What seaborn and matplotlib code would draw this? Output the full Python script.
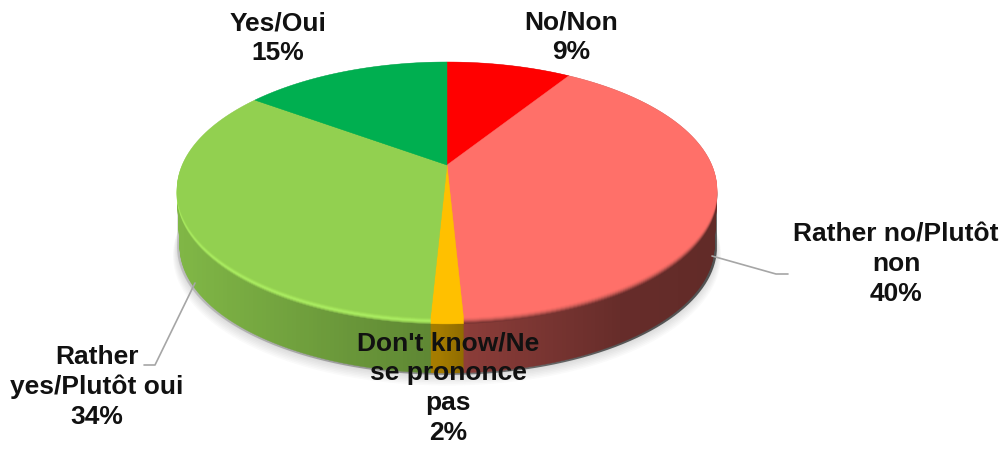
import numpy as np
import seaborn as sns
import matplotlib
matplotlib.use('Agg')
import matplotlib.pyplot as plt
from matplotlib.path import Path
from matplotlib.transforms import Transform, Affine2D

# values (labels are rounded, the slices are not)
categories = ['No/Non', 'Rather no/Plutôt\nnon', "Don't know/Ne\nse prononce\npas", 'Rather\nyes/Plutôt oui', 'Yes/Oui']
shares = [9.0, 40.2, 1.6, 34.2, 15.0]
labels_pct = ['9%', '40%', '2%', '34%', '15%']

face_colors = ['#FF0000', '#FF7069', '#FFC000', '#92D050', '#00AF50']
side_colors = ['#C00000', '#FF7069', '#FFC000', '#92D050', '#00AF50']
rim_colors = [
    ['#C00000', '#7A3533', '#FFC000', '#86BC4C', '#00AF50'],
    ['#C00000', '#97433F', '#FFC000', '#9AD655', '#00AF50'],
    ['#C00000', '#B5514C', '#FFC000', '#A8EA60', '#00AF50'],
    ['#C00000', '#D05E58', '#FFC000', '#A8EA60', '#00AF50'],
    ['#E00000', '#E86660', '#FFC000', '#A0E058', '#00AF50'],
    ['#E00000', '#F66C65', '#FFC000', '#98D653', '#00AF50'],
]

sns.set_theme(style='white')
plt.rcParams['font.family'] = ['Liberation Sans', 'DejaVu Sans']


class Perspective(Transform):
    # unit circle of the pie -> pixels of the tilted disc
    input_dims = 2
    output_dims = 2
    is_separable = False
    has_inverse = False

    def __init__(self, cx, cy, a, b, c):
        super().__init__()
        self.cx, self.cy, self.a, self.b, self.c = cx, cy, a, b, c

    def transform_non_affine(self, values):
        values = np.asarray(values, dtype=float)
        u, v = values[:, 0], values[:, 1]
        w = 1 + self.b * v
        return np.column_stack([self.cx + self.c * u / w, self.cy - self.a * v / w])

    def transform_path_non_affine(self, path):
        pts = path.transformed(Affine2D().scale(2000)).to_polygons(closed_only=False)[0] / 2000
        return Path(self.transform_non_affine(pts))


persp = Perspective(447, 165, 123.1, 0.195, 264.8)
depth = 57

fig = plt.figure(figsize=(10.08, 4.5), dpi=100)
ax = fig.add_axes([0, 0, 1, 1])


def pie_layer(shift, colors, zorder, radius=1.0, alpha=None):
    wedges, _ = ax.pie(shares, colors=colors, startangle=90, counterclock=False, radius=radius,
                       wedgeprops={'linewidth': 0, 'zorder': zorder})
    tr = persp + Affine2D().translate(0, shift) + ax.transData
    for w in wedges:
        w.set_transform(tr)
        if alpha is not None:
            w.set_alpha(alpha)
        else:
            w.set_edgecolor(w.get_facecolor())
            w.set_linewidth(0.3)
    return wedges


# soft shadow under the disc
for i in range(10):
    pie_layer(depth - 2 + i * 1.1, ['#000000'] * 5, 1, radius=1.0 - 0.008 + i * 0.0025, alpha=0.018)

# extruded side
for s in range(depth, 3, -1):
    pie_layer(s, side_colors, 2 + (depth - s) * 0.001, radius=1 - 0.01 * s / depth)

# darkening across the side wall
grad_x = np.arange(170, 726)
keep = np.interp(grad_x, [178, 440, 470, 620, 718], [0.88, 0.64, 0.54, 0.40, 0.38])
grad = np.zeros((1, len(grad_x), 4))
grad[0, :, 3] = 1 - keep
im = ax.imshow(grad, extent=(170, 726, 450, 0), aspect='auto', zorder=3, interpolation='bilinear')
t = np.linspace(0, 2 * np.pi, 400)
ring = np.column_stack([np.sin(t), np.cos(t)])
outline = persp.transform_non_affine(ring)
outline[ring[:, 1] < -0.195, 1] += depth
im.set_clip_path(Path(outline, closed=False), transform=ax.transData)

# bevel along the edge, then the top face
for i, rim in enumerate(rim_colors):
    pie_layer(6 - i, rim, 4 + i * 0.1)
pie_layer(0, face_colors, 5)

# leader lines
ax.plot([712, 776, 788], [256, 274, 274], color='#A6A6A6', lw=1.2, zorder=6)
ax.plot([195, 155, 144], [283, 365, 365], color='#A6A6A6', lw=1.2, zorder=6)

label_pos = [(571, 37), (896, 264), (448, 388), (97, 387), (278, 38)]
for name, pct, (x, y) in zip(categories, labels_pct, label_pos):
    ax.text(x, y, name + '\n' + pct, ha='center', va='center', fontsize=19, fontweight='bold',
            color='#111111', linespacing=1.3, zorder=7)

ax.set_aspect('auto')
ax.set_xlim(0, 1008)
ax.set_ylim(450, 0)
ax.set_axis_off()
fig.savefig('out.png', dpi=100)
